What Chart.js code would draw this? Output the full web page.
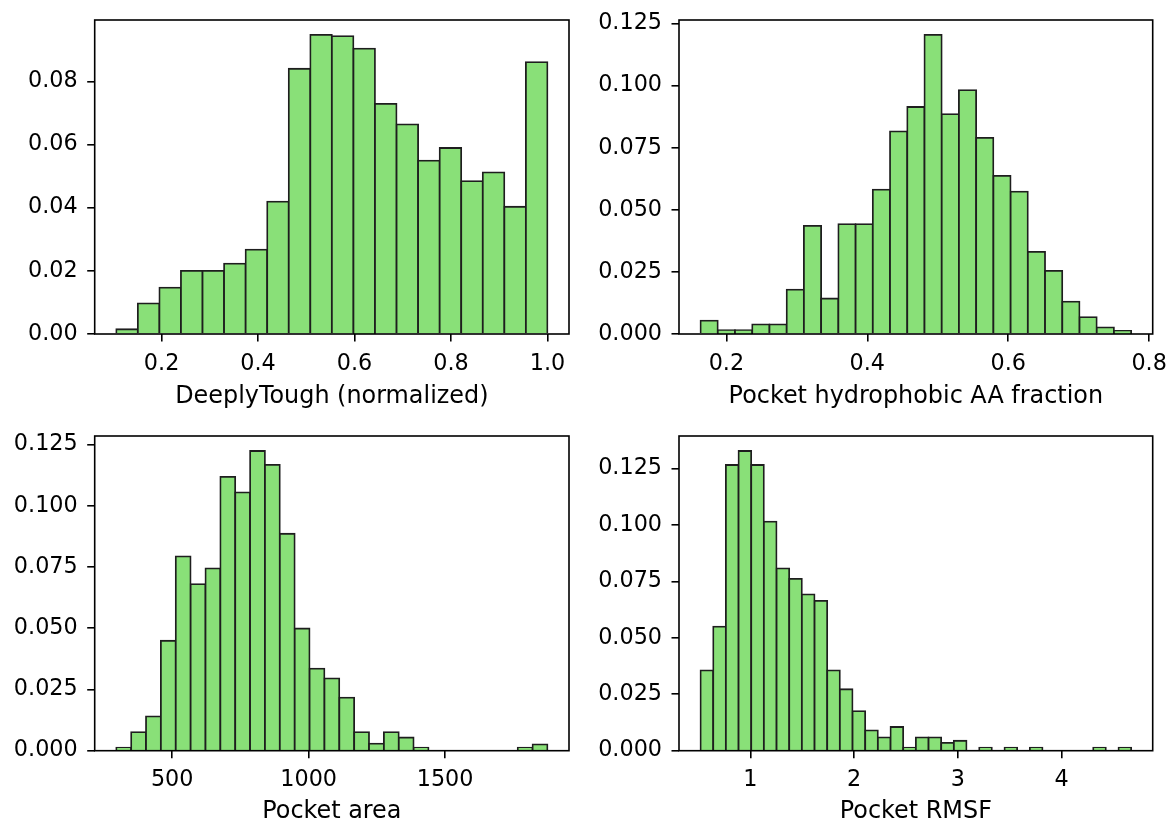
<!DOCTYPE html>
<html lang="en">
<head>
    <meta charset="UTF-8" />
    <title>Pocket feature histograms</title>
    <style>
        body {
            margin: 0;
            overflow: hidden;
            background-color: #ffffff;
        }
        canvas {
            position: absolute;
            left: 0;
            top: 0;
        }
    </style>
</head>
<body>
<canvas id="deeply" width="1168" height="821"></canvas>
<canvas id="hydro" width="1168" height="821"></canvas>
<canvas id="area" width="1168" height="821"></canvas>
<canvas id="rmsf" width="1168" height="821"></canvas>

<script src="https://cdn.jsdelivr.net/npm/chart.js"></script>
<script>
    // bin range [first edge, last edge] and bar heights (fraction of pockets)
    const deeplyRange = [0.106, 1.0];
    const deeplyValues = [0.0015, 0.0097, 0.0147, 0.0200, 0.0200, 0.0223, 0.0267, 0.0419, 0.0840, 0.0947,
        0.0943, 0.0904, 0.0729, 0.0664, 0.0549, 0.0589, 0.0484, 0.0512, 0.0403, 0.0861];

    const hydroRange = [0.1633, 0.7745];
    const hydroValues = [0.0054, 0.0016, 0.0016, 0.0039, 0.0039, 0.0179, 0.0435, 0.0143, 0.0442, 0.0442,
        0.0581, 0.0816, 0.0914, 0.1204, 0.0885, 0.0982, 0.0790, 0.0637, 0.0573, 0.0331,
        0.0254, 0.0130, 0.0068, 0.0027, 0.0012];

    const areaRange = [295, 1875];
    const areaValues = [0.0012, 0.0076, 0.0140, 0.0449, 0.0794, 0.0680, 0.0745, 0.1118, 0.1055, 0.1224,
        0.1167, 0.0886, 0.0499, 0.0335, 0.0295, 0.0217, 0.0076, 0.0029, 0.0076, 0.0054,
        0.0012, 0, 0, 0, 0, 0, 0, 0.0012, 0.0026];

    const rmsfRange = [0.519, 4.672];
    const rmsfValues = [0.0356, 0.0549, 0.1265, 0.1327, 0.1265, 0.1014, 0.0807, 0.0761, 0.0692, 0.0663,
        0.0356, 0.0272, 0.0175, 0.0090, 0.0059, 0.0105, 0.0013, 0.0059, 0.0059, 0.0035,
        0.0044, 0, 0.0013, 0, 0.0013, 0, 0.0013, 0, 0, 0,
        0, 0.0013, 0, 0.0013];

    // axis labels and ticks
    const xLabels = ["DeeplyTough (normalized)", "Pocket hydrophobic AA fraction", "Pocket area", "Pocket RMSF"];
    const xTicks = [
        [0.2, 0.4, 0.6, 0.8, 1.0],
        [0.2, 0.4, 0.6, 0.8],
        [500, 1000, 1500],
        [1, 2, 3, 4]
    ];
    const yTicks = [
        [0, 0.02, 0.04, 0.06, 0.08],
        [0, 0.025, 0.05, 0.075, 0.1, 0.125],
        [0, 0.025, 0.05, 0.075, 0.1, 0.125],
        [0, 0.025, 0.05, 0.075, 0.1, 0.125]
    ];

    const barFill = "#89e078";
    const barEdge = "#1e1e1e";
    const fontFamily = "'DejaVu Sans', sans-serif";

    // axes boxes on the page: left, top, right, bottom
    const boxes = [
        [94.7, 20, 569, 334],
        [679, 20, 1152.7, 334],
        [94.7, 436, 569, 750.7],
        [679, 436, 1152.7, 750.7]
    ];

    // draws the full black box round the plot area
    const frame = {
        id: "frame",
        afterDraw(chart) {
            const {ctx, chartArea: a} = chart;
            ctx.save();
            ctx.strokeStyle = "#000000";
            ctx.lineWidth = 1.6;
            ctx.strokeRect(a.left, a.top, a.right - a.left, a.bottom - a.top);
            ctx.restore();
        }
    };

    // labels may hang over the box edge, so the axes must not shrink for them
    function noOverhang(s) {
        s.paddingLeft = 0;
        s.paddingRight = 0;
        s.paddingTop = 0;
        s.paddingBottom = 0;
    }

    function drawHist(id, range, values, idx, xDigits, yDigits) {
        const [lo, hi] = range;
        const width = (hi - lo) / values.length;
        const points = values.map((v, i) => ({x: lo + (i + 0.5) * width, y: v}));
        const margin = (hi - lo) * 0.05;
        const [left, top, right, bottom] = boxes[idx];
        const yAxisWidth = idx % 2 === 0 ? left : 95;
        const xAxisHeight = idx < 2 ? 72 : 821 - bottom;

        const tickFont = {family: fontFamily, size: 22.3};
        const grid = {
            display: true,
            drawOnChartArea: false,
            drawTicks: true,
            tickLength: 7.5,
            color: "#000000",
            lineWidth: 1.6,
            offset: false
        };

        new Chart(document.getElementById(id), {
            type: "bar",
            data: {
                datasets: [{
                    data: points,
                    backgroundColor: barFill,
                    borderColor: barEdge,
                    borderWidth: 1.8,
                    inflateAmount: 0.9,
                    barPercentage: 1.0,
                    categoryPercentage: 1.0
                }]
            },
            options: {
                responsive: false,
                animation: false,
                devicePixelRatio: 1,
                layout: {
                    padding: {
                        left: left - yAxisWidth,
                        top: top,
                        right: 1168 - right,
                        bottom: 821 - bottom - xAxisHeight
                    }
                },
                plugins: {
                    legend: {display: false},
                    tooltip: {enabled: false}
                },
                scales: {
                    x: {
                        type: "linear",
                        offset: false,
                        min: lo - margin,
                        max: hi + margin,
                        grid: grid,
                        border: {display: false},
                        afterBuildTicks: s => { s.ticks = xTicks[idx].map(v => ({value: v})); },
                        ticks: {
                            maxRotation: 0,
                            autoSkip: false,
                            padding: 9,
                            color: "#000000",
                            font: tickFont,
                            callback: v => xDigits === null ? String(v) : v.toFixed(xDigits)
                        },
                        title: {
                            display: true,
                            text: xLabels[idx],
                            color: "#000000",
                            font: {family: fontFamily, size: 23.9, lineHeight: 1},
                            padding: {top: 0, bottom: -3}
                        },
                        afterFit: s => { s.height = xAxisHeight; noOverhang(s); }
                    },
                    y: {
                        min: 0,
                        max: Math.max(...values) * 1.05,
                        grid: grid,
                        border: {display: false},
                        afterBuildTicks: s => { s.ticks = yTicks[idx].map(v => ({value: v})); },
                        ticks: {
                            padding: 9.5,
                            color: "#000000",
                            font: tickFont,
                            callback: v => v.toFixed(yDigits)
                        },
                        afterFit: s => { s.width = yAxisWidth; noOverhang(s); }
                    }
                }
            },
            plugins: [frame]
        });
    }

    drawHist("deeply", deeplyRange, deeplyValues, 0, 1, 2);
    drawHist("hydro", hydroRange, hydroValues, 1, 1, 3);
    drawHist("area", areaRange, areaValues, 2, null, 3);
    drawHist("rmsf", rmsfRange, rmsfValues, 3, null, 3);
</script>
</body>
</html>
